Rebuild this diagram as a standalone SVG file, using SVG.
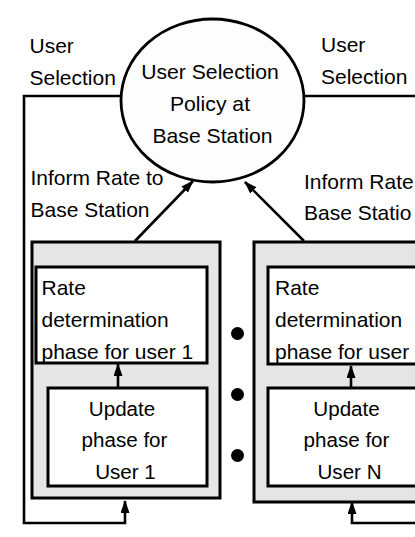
<svg xmlns="http://www.w3.org/2000/svg" width="415" height="537" viewBox="0 0 415 537">
<defs>
<style>
.t{font-family:"Liberation Sans",Arial,Helvetica,sans-serif;font-size:20px;fill:#000}
.c{text-anchor:middle}
.ln{fill:none;stroke:#000;stroke-width:2.6}
.outer{fill:#e5e5e5;stroke:#000;stroke-width:3}
.inner{fill:#fff;stroke:#000;stroke-width:3}
.dot{fill:#000}
</style>
<marker id="ah" markerUnits="userSpaceOnUse" markerWidth="13" markerHeight="10" refX="12" refY="4.5" orient="auto">
<path d="M0,0 L13,4.5 L0,9 Z" fill="#000"/>
</marker>
</defs>
<rect width="415" height="537" fill="#fff"/>

<g id="connectors">
<path class="ln" d="M121,96 H24 V523 H125 V501" marker-end="url(#ah)"/>
<path class="ln" d="M304,96 H440 V523 H352 V502" marker-end="url(#ah)"/>
<line class="ln" x1="135" y1="241" x2="193" y2="181" marker-end="url(#ah)"/>
<line class="ln" x1="304" y1="241" x2="245" y2="182" marker-end="url(#ah)"/>
</g>

<g id="policy">
<ellipse cx="212.5" cy="100.5" rx="91.5" ry="81.5" fill="#fdfdfd" stroke="#000" stroke-width="2.8"/>
<text class="t c" transform="translate(210,78.5) scale(1.06,1)">User Selection</text>
<text class="t c" transform="translate(210,110.5) scale(1.06,1)">Policy at</text>
<text class="t c" transform="translate(212.5,143) scale(1.06,1)">Base Station</text>
</g>

<g id="labels">
<text class="t" transform="translate(29.5,52.5) scale(1.05,1)">User</text>
<text class="t" transform="translate(29.5,85) scale(1.05,1)">Selection</text>
<text class="t" transform="translate(321,52) scale(1.05,1)">User</text>
<text class="t" transform="translate(321,83.5) scale(1.05,1)">Selection</text>
<text class="t" transform="translate(30.5,185) scale(1.05,1)">Inform Rate to</text>
<text class="t" transform="translate(30.5,217) scale(1.05,1)">Base Station</text>
<text class="t" transform="translate(304,189) scale(1.05,1)">Inform Rate</text>
<text class="t" transform="translate(304,220) scale(1.05,1)">Base Statio</text>
</g>

<g id="user1">
<rect class="outer" x="32" y="242" width="188" height="256"/>
<g id="rate1">
<rect class="inner" x="36" y="267" width="171" height="96"/>
<text class="t" transform="translate(41.5,295) scale(1.05,1)">Rate</text>
<text class="t" transform="translate(41.5,327) scale(1.05,1)">determination</text>
<text class="t" transform="translate(41.5,358.5) scale(1.05,1)">phase for user 1</text>
</g>
<g id="update1">
<rect class="inner" x="48" y="388" width="159" height="98"/>
<text class="t c" transform="translate(122,415.5) scale(1.03,1)">Update</text>
<text class="t c" transform="translate(124.5,447) scale(1.03,1)">phase for</text>
<text class="t c" transform="translate(125.5,478.5) scale(1.03,1)">User 1</text>
</g>
<line class="ln" x1="118" y1="388" x2="118" y2="364" marker-end="url(#ah)"/>
</g>

<g id="dots">
<circle class="dot" cx="237.5" cy="333.5" r="6.5"/>
<circle class="dot" cx="237.5" cy="394.5" r="6.5"/>
<circle class="dot" cx="237.5" cy="455.5" r="6.5"/>
</g>

<g id="userN">
<rect class="outer" x="254" y="242" width="200" height="260"/>
<g id="rateN">
<rect class="inner" x="268" y="267" width="180" height="97"/>
<text class="t" transform="translate(275,295) scale(1.05,1)">Rate</text>
<text class="t" transform="translate(275,327) scale(1.05,1)">determination</text>
<text class="t" transform="translate(275,358.5) scale(1.05,1)">phase for user</text>
</g>
<g id="updateN">
<rect class="inner" x="268" y="388" width="180" height="98"/>
<text class="t c" transform="translate(346.5,415.5) scale(1.03,1)">Update</text>
<text class="t c" transform="translate(346.5,447) scale(1.03,1)">phase for</text>
<text class="t c" transform="translate(349.5,478.5) scale(1.03,1)">User N</text>
</g>
<line class="ln" x1="351" y1="388" x2="351" y2="366" marker-end="url(#ah)"/>
</g>
</svg>
